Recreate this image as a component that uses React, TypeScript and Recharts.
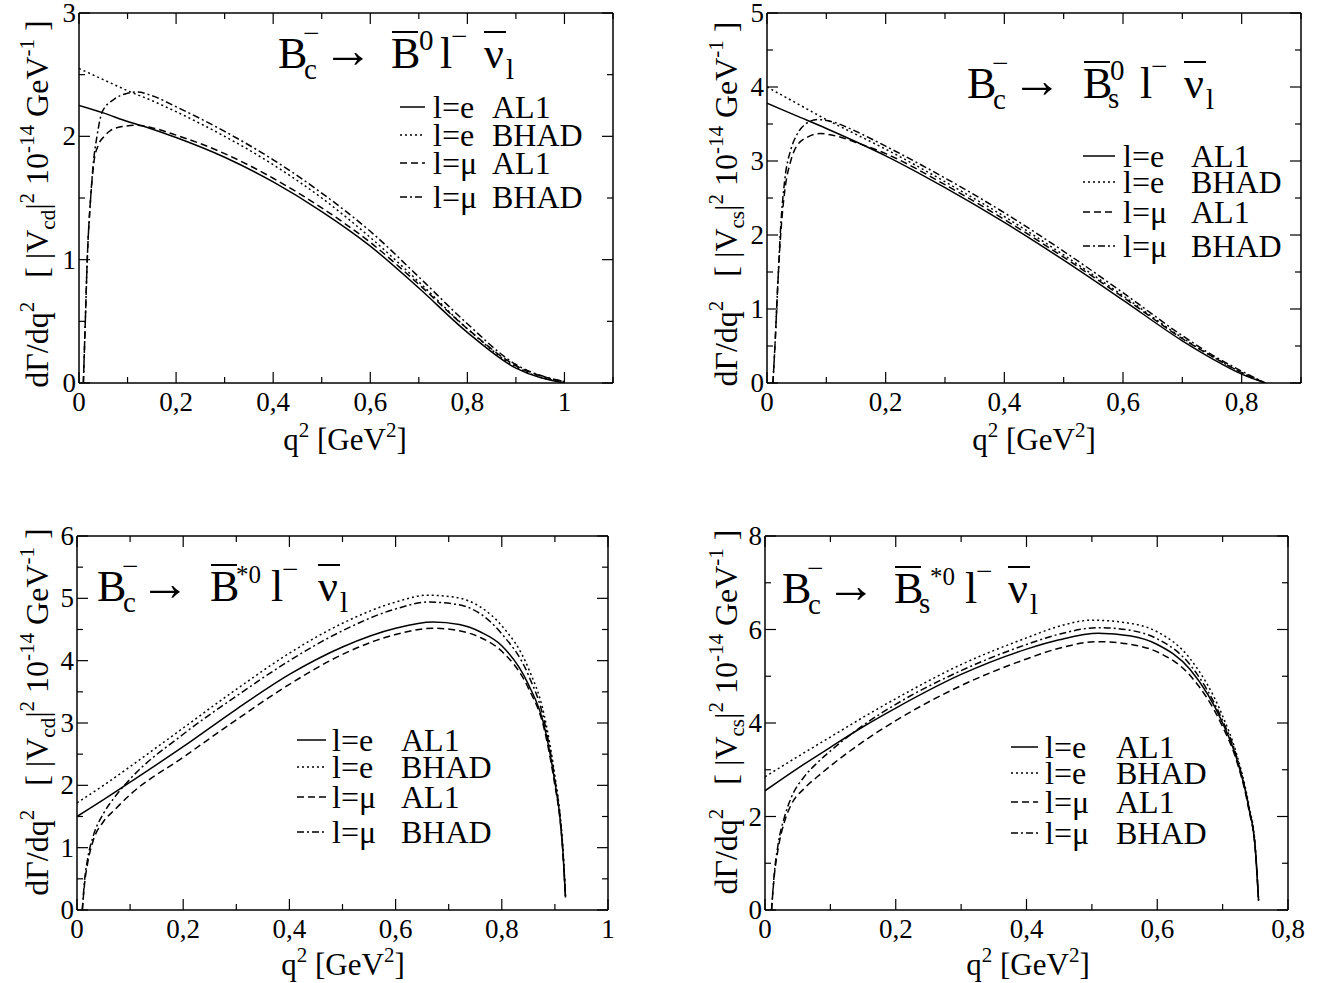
import React from 'react';
import { LineChart, Line, XAxis, YAxis, ReferenceLine } from 'recharts';

// q^2 [GeV^2], dGamma/dq^2
const b0_eAL1 = [[0, 2.25], [0.05, 2.19], [0.1, 2.12], [0.15, 2.06], [0.2, 1.99], [0.3, 1.83], [0.4, 1.63], [0.5, 1.39], [0.6, 1.11], [0.7, 0.77], [0.8, 0.41], [0.9, 0.12], [1.0, 0]];
const b0_eBHAD = [[0, 2.55], [0.05, 2.46], [0.1, 2.37], [0.15, 2.29], [0.2, 2.2], [0.3, 2.0], [0.4, 1.77], [0.5, 1.5], [0.6, 1.18], [0.7, 0.82], [0.8, 0.44], [0.9, 0.13], [1.0, 0]];
const b0_muAL1 = [[0.009, 0], [0.013, 0.5], [0.017, 1.0], [0.024, 1.5], [0.031, 1.8], [0.04, 1.93], [0.052, 2.0], [0.066, 2.05], [0.09, 2.08], [0.12, 2.09], [0.15, 2.07], [0.2, 2.01], [0.3, 1.86], [0.4, 1.66], [0.5, 1.42], [0.6, 1.14], [0.7, 0.8], [0.8, 0.44], [0.9, 0.14], [1.0, 0.01]];
const b0_muBHAD = [[0.009, 0], [0.013, 0.5], [0.017, 1.0], [0.024, 1.5], [0.03, 1.8], [0.037, 2.0], [0.048, 2.2], [0.072, 2.3], [0.1, 2.35], [0.12, 2.36], [0.15, 2.33], [0.2, 2.24], [0.3, 2.04], [0.4, 1.81], [0.5, 1.54], [0.6, 1.23], [0.7, 0.86], [0.8, 0.48], [0.9, 0.15], [1.0, 0.01]];

const bs_eAL1 = [[0, 3.78], [0.05, 3.61], [0.1, 3.44], [0.15, 3.26], [0.2, 3.07], [0.3, 2.64], [0.4, 2.17], [0.5, 1.66], [0.6, 1.12], [0.7, 0.57], [0.75, 0.33], [0.8, 0.12], [0.84, 0]];
const bs_eBHAD = [[0, 4.0], [0.05, 3.78], [0.1, 3.56], [0.15, 3.36], [0.2, 3.16], [0.3, 2.72], [0.4, 2.25], [0.5, 1.73], [0.6, 1.18], [0.7, 0.61], [0.75, 0.36], [0.8, 0.14], [0.84, 0]];
const bs_muAL1 = [[0.01, 0], [0.014, 0.6], [0.018, 1.3], [0.023, 2.0], [0.03, 2.6], [0.04, 3.0], [0.05, 3.2], [0.07, 3.33], [0.09, 3.37], [0.12, 3.33], [0.15, 3.25], [0.2, 3.1], [0.3, 2.68], [0.4, 2.21], [0.5, 1.7], [0.6, 1.16], [0.7, 0.6], [0.75, 0.36], [0.8, 0.14], [0.84, 0]];
const bs_muBHAD = [[0.01, 0], [0.014, 0.6], [0.018, 1.3], [0.023, 2.1], [0.03, 2.75], [0.04, 3.15], [0.05, 3.35], [0.065, 3.5], [0.085, 3.56], [0.11, 3.53], [0.15, 3.4], [0.2, 3.2], [0.3, 2.77], [0.4, 2.3], [0.5, 1.78], [0.6, 1.22], [0.7, 0.64], [0.75, 0.38], [0.8, 0.16], [0.84, 0]];

const bst_eAL1 = [[0, 1.5], [0.05, 1.77], [0.1, 2.05], [0.2, 2.62], [0.3, 3.22], [0.4, 3.78], [0.5, 4.22], [0.6, 4.52], [0.67, 4.62], [0.72, 4.58], [0.76, 4.46], [0.8, 4.24], [0.85, 3.62], [0.88, 2.95], [0.9, 2.05], [0.91, 1.45], [0.915, 0.95], [0.92, 0.2]];
const bst_eBHAD = [[0, 1.72], [0.05, 2.0], [0.1, 2.3], [0.2, 2.92], [0.3, 3.54], [0.4, 4.12], [0.5, 4.6], [0.6, 4.94], [0.66, 5.05], [0.71, 5.02], [0.76, 4.86], [0.8, 4.56], [0.85, 3.88], [0.88, 3.12], [0.9, 2.15], [0.91, 1.5], [0.915, 1.0], [0.92, 0.2]];
const bst_muAL1 = [[0.01, 0], [0.014, 0.4], [0.02, 0.75], [0.03, 1.1], [0.05, 1.42], [0.07, 1.6], [0.1, 1.85], [0.2, 2.45], [0.3, 3.05], [0.4, 3.62], [0.5, 4.1], [0.6, 4.42], [0.67, 4.52], [0.72, 4.48], [0.76, 4.37], [0.8, 4.15], [0.85, 3.56], [0.88, 2.9], [0.9, 2.0], [0.91, 1.42], [0.915, 0.93], [0.92, 0.2]];
const bst_muBHAD = [[0.01, 0], [0.014, 0.45], [0.02, 0.82], [0.03, 1.17], [0.05, 1.55], [0.07, 1.8], [0.1, 2.1], [0.2, 2.82], [0.3, 3.43], [0.4, 4.0], [0.5, 4.48], [0.6, 4.83], [0.66, 4.94], [0.71, 4.91], [0.76, 4.75], [0.8, 4.43], [0.85, 3.77], [0.88, 3.03], [0.9, 2.1], [0.91, 1.48], [0.915, 0.97], [0.92, 0.2]];

const bsst_eAL1 = [[0, 2.55], [0.05, 3.03], [0.1, 3.48], [0.15, 3.92], [0.2, 4.32], [0.3, 5.04], [0.4, 5.58], [0.45, 5.78], [0.51, 5.92], [0.56, 5.86], [0.6, 5.68], [0.65, 5.15], [0.7, 4.0], [0.72, 3.3], [0.74, 2.2], [0.75, 1.3], [0.755, 0.2]];
const bsst_eBHAD = [[0, 2.85], [0.05, 3.28], [0.1, 3.7], [0.15, 4.12], [0.2, 4.52], [0.3, 5.25], [0.4, 5.82], [0.45, 6.07], [0.5, 6.2], [0.55, 6.15], [0.6, 5.95], [0.65, 5.38], [0.7, 4.15], [0.72, 3.4], [0.74, 2.25], [0.75, 1.35], [0.755, 0.2]];
const bsst_muAL1 = [[0.01, 0], [0.014, 0.7], [0.02, 1.3], [0.03, 1.9], [0.04, 2.25], [0.06, 2.6], [0.08, 2.85], [0.1, 3.08], [0.15, 3.6], [0.2, 4.05], [0.3, 4.8], [0.4, 5.37], [0.45, 5.6], [0.51, 5.74], [0.56, 5.68], [0.6, 5.52], [0.65, 5.02], [0.7, 3.92], [0.72, 3.25], [0.74, 2.15], [0.75, 1.28], [0.755, 0.2]];
const bsst_muBHAD = [[0.01, 0], [0.014, 0.75], [0.02, 1.4], [0.03, 2.0], [0.04, 2.4], [0.06, 2.85], [0.08, 3.15], [0.1, 3.4], [0.15, 3.95], [0.2, 4.4], [0.3, 5.12], [0.4, 5.68], [0.45, 5.9], [0.51, 6.04], [0.56, 5.98], [0.6, 5.8], [0.65, 5.25], [0.7, 4.05], [0.72, 3.35], [0.74, 2.2], [0.75, 1.32], [0.755, 0.2]];

// axis ticks (minor + major)
const X_TICKS_11 = [0, 0.1, 0.2, 0.3, 0.4, 0.5, 0.6, 0.7, 0.8, 0.9, 1.0, 1.1];
const X_TICKS_09 = [0, 0.1, 0.2, 0.3, 0.4, 0.5, 0.6, 0.7, 0.8, 0.9];
const X_TICKS_10 = [0, 0.1, 0.2, 0.3, 0.4, 0.5, 0.6, 0.7, 0.8, 0.9, 1.0];
const X_TICKS_08 = [0, 0.1, 0.2, 0.3, 0.4, 0.5, 0.6, 0.7, 0.8];
const X_MAJOR = [0, 0.2, 0.4, 0.6, 0.8, 1.0];
const Y_TICKS_3 = [0, 0.5, 1, 1.5, 2, 2.5, 3];
const Y_TICKS_5 = [0, 0.5, 1, 1.5, 2, 2.5, 3, 3.5, 4, 4.5, 5];
const Y_TICKS_6 = [0, 0.5, 1, 1.5, 2, 2.5, 3, 3.5, 4, 4.5, 5, 5.5, 6];
const Y_TICKS_8 = [0, 1, 2, 3, 4, 5, 6, 7, 8];
const Y_MAJOR_1 = [0, 1, 2, 3, 4, 5, 6];
const Y_MAJOR_2 = [0, 2, 4, 6, 8];

const LEPTONS = ['l=e', 'l=e', 'l=\u03bc', 'l=\u03bc'];
const MODELS = ['AL1', 'BHAD', 'AL1', 'BHAD'];

const DASHES = [undefined, '2 3', '7 4', '7 3 2 3'];

const SERIF = '"Liberation Serif", "Times New Roman", serif';

const toPts = (arr: number[][]) => arr.map(([x, y]) => ({ x, y }));
const isIn = (v: number, list: number[]) => list.some(m => Math.abs(m - v) < 1e-6);
const fmt = (v: number) => (Number.isInteger(v) ? String(v) : String(v).replace('.', ','));

const panels = [
  {
    left: 0, top: 0, width: 665, height: 490,
    plot: { x0: 79, x1: 613, y0: 13, y1: 383 },
    xMax: 1.1, xTicks: X_TICKS_11, yMax: 3, yTicks: Y_TICKS_3, yMajor: Y_MAJOR_1,
    series: [b0_eAL1, b0_eBHAD, b0_muAL1, b0_muBHAD],
  },
  {
    left: 665, top: 0, width: 665, height: 490,
    plot: { x0: 767, x1: 1301, y0: 13, y1: 383 },
    xMax: 0.9, xTicks: X_TICKS_09, yMax: 5, yTicks: Y_TICKS_5, yMajor: Y_MAJOR_1,
    series: [bs_eAL1, bs_eBHAD, bs_muAL1, bs_muBHAD],
  },
  {
    left: 0, top: 490, width: 665, height: 493,
    plot: { x0: 77, x1: 608, y0: 536, y1: 910 },
    xMax: 1.0, xTicks: X_TICKS_10, yMax: 6, yTicks: Y_TICKS_6, yMajor: Y_MAJOR_1,
    series: [bst_eAL1, bst_eBHAD, bst_muAL1, bst_muBHAD],
  },
  {
    left: 665, top: 490, width: 665, height: 493,
    plot: { x0: 765, x1: 1288, y0: 536, y1: 910 },
    xMax: 0.8, xTicks: X_TICKS_08, yMax: 8, yTicks: Y_TICKS_8, yMajor: Y_MAJOR_2,
    series: [bsst_eAL1, bsst_eBHAD, bsst_muAL1, bsst_muBHAD],
  },
];

function Panel({ p }: { p: any }) {
  const py0 = p.plot.y0 - p.top;
  const py1 = p.plot.y1 - p.top;
  const px0 = p.plot.x0 - p.left;
  const px1 = p.plot.x1 - p.left;

  const xTick = (props: any) => {
    const { x, payload } = props;
    const major = isIn(payload.value, X_MAJOR);
    const len = major ? 11 : 6;
    return (
      <g>
        <line x1={x} x2={x} y1={py1} y2={py1 - len} stroke="#000" strokeWidth={1.2} />
        <line x1={x} x2={x} y1={py0} y2={py0 + len} stroke="#000" strokeWidth={1.2} />
        {major && (
          <text x={x} y={py1 + 28} textAnchor="middle" fontSize={27} fontFamily={SERIF} fill="#000">
            {fmt(payload.value)}
          </text>
        )}
      </g>
    );
  };

  const yTick = (props: any) => {
    const { y, payload } = props;
    const major = isIn(payload.value, p.yMajor);
    const len = major ? 11 : 6;
    return (
      <g>
        <line x1={px0} x2={px0 + len} y1={y} y2={y} stroke="#000" strokeWidth={1.2} />
        <line x1={px1} x2={px1 - len} y1={y} y2={y} stroke="#000" strokeWidth={1.2} />
        {major && (
          <text x={px0 - 3} y={y + 9} textAnchor="end" fontSize={27} fontFamily={SERIF} fill="#000">
            {fmt(payload.value)}
          </text>
        )}
      </g>
    );
  };

  return (
    <div style={{ position: 'absolute', left: p.left, top: p.top }}>
      <LineChart
        width={p.width}
        height={p.height}
        margin={{ top: py0, right: p.width - px1, left: 0, bottom: 0 }}
      >
        <XAxis
          dataKey="x"
          type="number"
          domain={[0, p.xMax]}
          ticks={p.xTicks}
          interval={0}
          allowDataOverflow
          height={p.height - py1}
          tickLine={false}
          tickSize={0}
          axisLine={{ stroke: '#000', strokeWidth: 1.5 }}
          tick={xTick}
        />
        <YAxis
          type="number"
          domain={[0, p.yMax]}
          ticks={p.yTicks}
          interval={0}
          allowDataOverflow
          width={px0}
          tickLine={false}
          tickSize={0}
          axisLine={{ stroke: '#000', strokeWidth: 1.5 }}
          tick={yTick}
        />
        <ReferenceLine x={p.xMax} stroke="#000" strokeWidth={1.5} />
        <ReferenceLine y={p.yMax} stroke="#000" strokeWidth={1.5} />
        {p.series.map((s: number[][], i: number) => (
          <Line
            key={i}
            data={toPts(s)}
            dataKey="y"
            type="monotone"
            stroke="#000"
            strokeWidth={1.5}
            strokeDasharray={DASHES[i]}
            dot={false}
            isAnimationActive={false}
          />
        ))}
      </LineChart>
    </div>
  );
}

// B_c^- -> Bbar(_s)^(*)0 l^- nubar_l, pieces placed at offsets from the B
function Title({ x, y, o }: { x: number; y: number; o: any }) {
  const big = { fontSize: 44, fontFamily: SERIF, fill: '#000' };
  const small = { fontSize: 29, fontFamily: SERIF, fill: '#000' };
  return (
    <g>
      <text x={x} y={y} {...big}>B</text>
      <text x={x + 26} y={y + 11} {...small}>c</text>
      <text x={x + 25} y={y - 25} {...small}>{'\u2212'}</text>
      <text x={x + o.arrow} y={y - 1} fontSize={50} fontFamily={SERIF} fill="#000">{'\u2192'}</text>
      <line x1={x + o.bbar + 1} x2={x + o.bbar + 27} y1={y - 36} y2={y - 36} stroke="#000" strokeWidth={2} />
      <text x={x + o.bbar} y={y} {...big}>B</text>
      {o.sub ? <text x={x + o.subX} y={y + 10} {...small}>{o.sub}</text> : null}
      <text x={x + o.supX} y={y - 18} fontSize={o.supSize} fontFamily={SERIF} fill="#000">{o.sup}</text>
      <text x={x + o.l} y={y} {...big}>l</text>
      <text x={x + o.l + 11} y={y - 22} {...small}>{'\u2212'}</text>
      <line x1={x + o.nu} x2={x + o.nu + 22} y1={y - 36} y2={y - 36} stroke="#000" strokeWidth={2} />
      <text x={x + o.nu} y={y} {...big}>{'\u03bd'}</text>
      <text x={x + o.nu + 22} y={y + 11} {...small}>l</text>
    </g>
  );
}

function YLabel({ x, y, v }: { x: number; y: number; v: string }) {
  const s = 21;
  return (
    <text
      x={x}
      y={y}
      transform={`rotate(-90 ${x} ${y})`}
      textAnchor="middle"
      fontSize={32}
      fontFamily={SERIF}
      fill="#000"
      style={{ whiteSpace: 'pre' }}
    >
      <tspan>{'d\u0393/dq'}</tspan>
      <tspan fontSize={s} dy={-14}>2</tspan>
      <tspan dy={14}>{'   [ |V'}</tspan>
      <tspan fontSize={s} dy={7}>{v}</tspan>
      <tspan dy={-7}>|</tspan>
      <tspan fontSize={s} dy={-14}>2</tspan>
      <tspan dy={14}>{' 10'}</tspan>
      <tspan fontSize={s} dy={-14}>-14</tspan>
      <tspan dy={14}>{' GeV'}</tspan>
      <tspan fontSize={s} dy={-14}>-1</tspan>
      <tspan dy={14}>{' ]'}</tspan>
    </text>
  );
}

function XLabel({ x, y }: { x: number; y: number }) {
  return (
    <text x={x} y={y} textAnchor="middle" fontSize={31} fontFamily={SERIF} fill="#000" style={{ whiteSpace: 'pre' }}>
      <tspan>q</tspan>
      <tspan fontSize={21} dy={-13}>2</tspan>
      <tspan dy={13}>{' [GeV'}</tspan>
      <tspan fontSize={21} dy={-13}>2</tspan>
      <tspan dy={13}>]</tspan>
    </text>
  );
}

function LegendBox({ rows, col1, col2, lineX0, lineX1 }: any) {
  return (
    <g>
      {rows.map((cy: number, i: number) => (
        <g key={i}>
          <line x1={lineX0} x2={lineX1} y1={cy} y2={cy} stroke="#000" strokeWidth={1.5} strokeDasharray={DASHES[i]} />
          <text x={col1} y={cy + 11} fontSize={32} fontFamily={SERIF} fill="#000">{LEPTONS[i]}</text>
          <text x={col2} y={cy + 11} fontSize={32} fontFamily={SERIF} fill="#000">{MODELS[i]}</text>
        </g>
      ))}
    </g>
  );
}

export default function App() {
  return (
    <div style={{ position: 'absolute', left: 0, top: 0, width: 1330, height: 983, background: '#fff' }}>
      {panels.map((p, i) => (
        <Panel key={i} p={p} />
      ))}
      <svg
        width={1330}
        height={983}
        style={{ position: 'absolute', left: 0, top: 0, pointerEvents: 'none' }}
      >
        <Title x={278} y={68} o={{ arrow: 45, bbar: 113, sup: '0', supX: 141, supSize: 29, l: 162, nu: 206 }} />
        <Title x={967} y={98} o={{ arrow: 45, bbar: 116, sub: 's', subX: 141, sup: '0', supX: 143, supSize: 29, l: 173, nu: 217 }} />
        <Title x={97} y={601} o={{ arrow: 43, bbar: 113, sup: '*0', supX: 139, supSize: 25, l: 174, nu: 221 }} />
        <Title x={782} y={603} o={{ arrow: 44, bbar: 112, sub: 's', subX: 137, sup: '*0', supX: 148, supSize: 25, l: 183, nu: 226 }} />

        <YLabel x={48} y={204} v="cd" />
        <YLabel x={737} y={204} v="cs" />
        <YLabel x={48} y={712} v="cd" />
        <YLabel x={737} y={712} v="cs" />

        <XLabel x={345} y={450} />
        <XLabel x={1034} y={450} />
        <XLabel x={343} y={975} />
        <XLabel x={1028} y={975} />

        <LegendBox rows={[107, 135, 163, 197]} col1={433} col2={492} lineX0={400} lineX1={425} />
        <LegendBox rows={[156, 182, 212, 246]} col1={1123} col2={1191} lineX0={1083} lineX1={1115} />
        <LegendBox rows={[740, 767, 797, 832]} col1={332} col2={401} lineX0={297} lineX1={326} />
        <LegendBox rows={[747, 773, 802, 833]} col1={1045} col2={1116} lineX0={1011} lineX1={1038} />
      </svg>
    </div>
  );
}
